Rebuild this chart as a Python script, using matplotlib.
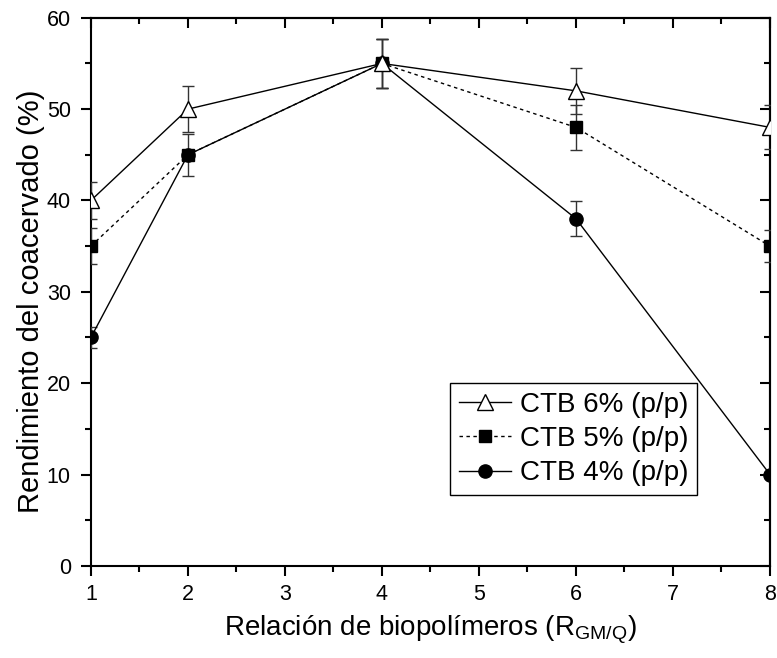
import matplotlib
matplotlib.use("Agg")
import matplotlib.pyplot as plt
from matplotlib.ticker import MultipleLocator

plt.rcParams['font.family'] = ['Liberation Sans', 'DejaVu Sans']

x = [1, 2, 4, 6, 8]
ctb6 = [40, 50, 55, 52, 48]
ctb6_err = [2.0, 2.5, 2.7, 2.5, 2.4]
ctb5 = [35, 45, 55, 48, 35]
ctb5_err = [2.0, 2.3, 2.7, 2.5, 1.75]
ctb4 = [25, 45, 55, 38, 10]
ctb4_err = [1.2, 0.0, 2.7, 1.9, 0.0]
labels = ['CTB 6% (p/p)', 'CTB 5% (p/p)', 'CTB 4% (p/p)']

fig = plt.figure(figsize=(7.77, 6.58), dpi=100)
ax = fig.add_axes([0.117, 0.140, 0.874, 0.833])

ekw = dict(ecolor='#333333', elinewidth=1.0, capsize=4.5, capthick=1.0)
c4 = ax.errorbar(x, ctb4, yerr=ctb4_err, color='black', lw=1.0, marker='o', ms=9.5,
                 mfc='black', mec='black', zorder=3, **ekw)
c5 = ax.errorbar(x, ctb5, yerr=ctb5_err, color='black', lw=1.0, ls=(0, (2.5, 2.5)), marker='s', ms=9,
                 mfc='black', mec='black', zorder=3, **ekw)
c6 = ax.errorbar(x, ctb6, yerr=ctb6_err, color='black', lw=1.0, marker='^', ms=11,
                 mfc='white', mec='black', mew=1.0, zorder=4, **ekw)

ax.set_xlim(1, 8)
ax.set_ylim(0, 60)
ax.xaxis.set_major_locator(MultipleLocator(1))
ax.xaxis.set_minor_locator(MultipleLocator(0.5))
ax.yaxis.set_major_locator(MultipleLocator(10))
ax.yaxis.set_minor_locator(MultipleLocator(5))

for s in ax.spines.values():
    s.set_linewidth(1.5)

ax.tick_params(which='both', direction='out', width=1.5, labelsize=15.5, pad=6,
               top=False, right=False)
ax.tick_params(axis='y', pad=7.5)
ax.tick_params(which='major', length=7)
ax.tick_params(which='minor', length=4)
sec = dict(which='both', direction='in', width=1.5)
axt = ax.secondary_xaxis('top')
axt.xaxis.set_major_locator(MultipleLocator(1))
axt.xaxis.set_minor_locator(MultipleLocator(0.5))
axt.tick_params(**sec, labeltop=False)
axt.tick_params(which='major', length=7)
axt.tick_params(which='minor', length=4)
axr = ax.secondary_yaxis('right')
axr.yaxis.set_major_locator(MultipleLocator(10))
axr.yaxis.set_minor_locator(MultipleLocator(5))
axr.tick_params(**sec, labelright=False)
axr.tick_params(which='major', length=7)
axr.tick_params(which='minor', length=4)
for s in list(axt.spines.values()) + list(axr.spines.values()):
    s.set_linewidth(1.5)

ax.set_xlabel(r'Relación de biopolímeros (R$_{\mathregular{GM/Q}}$)', fontsize=20, labelpad=6)
ax.set_ylabel('Rendimiento del coacervado (%)', fontsize=21)
ax.yaxis.set_label_coords(-0.067, 0.482)

handles = [c6.lines[0], c5.lines[0], c4.lines[0]]
leg = ax.legend(handles, labels,
                loc='lower right', bbox_to_anchor=(0.892, 0.13), fontsize=20,
                frameon=True, fancybox=False, edgecolor='black', framealpha=1,
                handlelength=1.9, handletextpad=0.3, borderpad=0.3, labelspacing=0.3,
                borderaxespad=0)
leg.get_frame().set_linewidth(1.0)

fig.savefig('out.png', dpi=100)
